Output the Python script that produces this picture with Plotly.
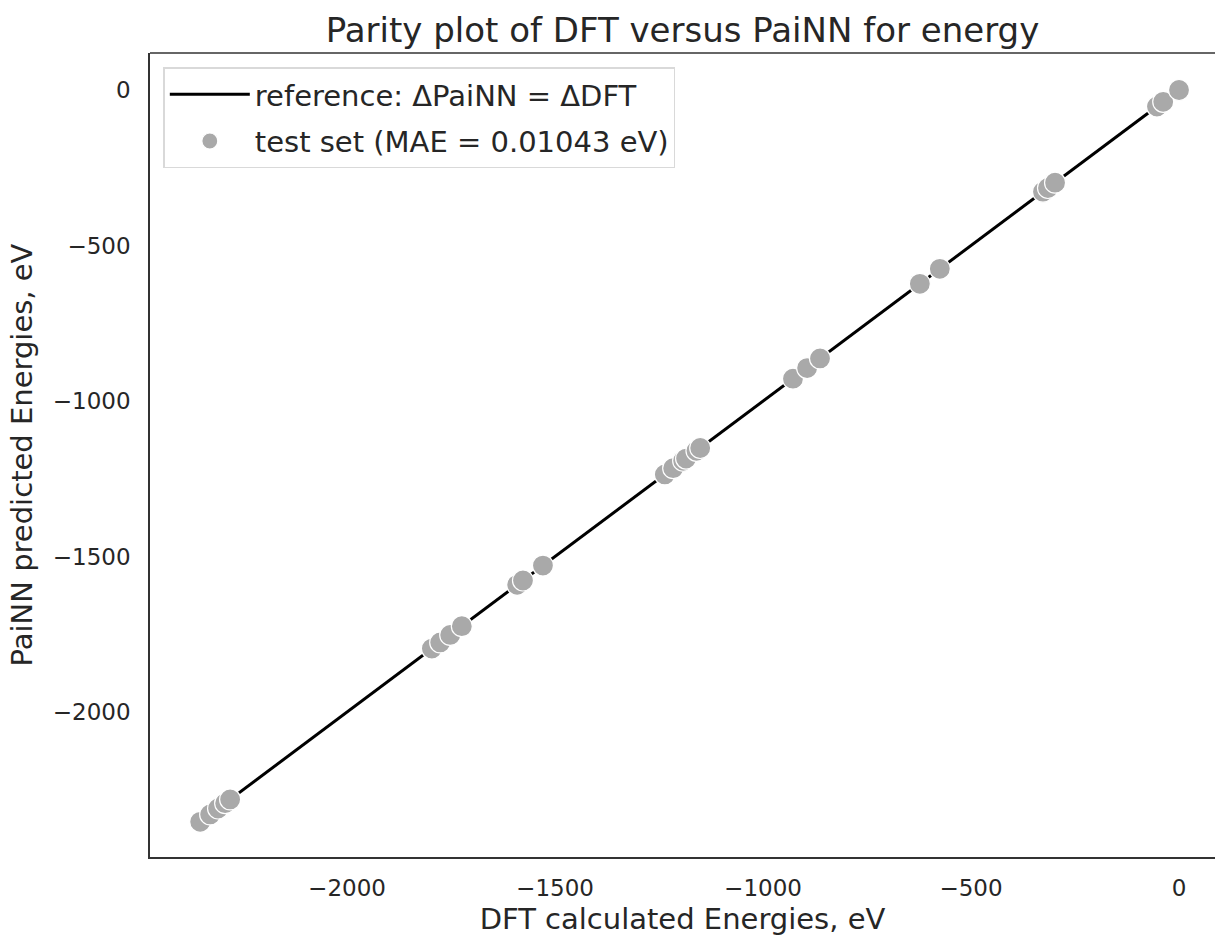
import plotly.graph_objects as go

# DFT energies (eV) and PaiNN predictions (eV)
dft = [-2353, -2329, -2310, -2293, -2281,
       -1796, -1776, -1752, -1724,
       -1591, -1577, -1529,
       -1236, -1216, -1192, -1185, -1160, -1151,
       -928, -894, -863,
       -623, -575,
       -327, -315, -298,
       -53, -38, 0]
painn = [-2353, -2329, -2310, -2293, -2281,
         -1796, -1776, -1752, -1724,
         -1591, -1577, -1529,
         -1236, -1216, -1192, -1185, -1160, -1151,
         -928, -894, -863,
         -623, -575,
         -327, -315, -298,
         -53, -38, 0]
ref_line = [min(dft), max(dft)]

x_ticks = [-2000, -1500, -1000, -500, 0]
y_ticks = [0, -500, -1000, -1500, -2000]

FONT = "DejaVu Sans"
TXT = "#262626"

fig = go.Figure()
fig.add_trace(go.Scatter(
    x=ref_line, y=ref_line, mode="lines", legendgroup="ref",
    line=dict(color="black", width=3),
    name="reference: \u0394PaiNN = \u0394DFT"))
fig.add_trace(go.Scatter(
    x=dft, y=painn, mode="markers", legendgroup="test",
    marker=dict(color="#a9a9a9", size=21, line=dict(color="white", width=1.2)),
    name="test set (MAE = 0.01043 eV)"))

fig.update_layout(
    width=1215, height=936,
    margin=dict(l=150, r=0, t=53, b=79),
    paper_bgcolor="white", plot_bgcolor="white",
    font=dict(family=FONT, color=TXT, size=23),
    title=dict(text="Parity plot of DFT versus PaiNN for energy",
               x=0.5, xanchor="center", xref="paper",
               y=1 - 30 / 936, yanchor="middle",
               font=dict(size=34, color=TXT, family=FONT)),
    showlegend=True,
    legend=dict(x=0.0125, y=0.982, xanchor="left", yanchor="top",
                bgcolor="white", bordercolor="#d9d9d9", borderwidth=1.5,
                font=dict(size=29, color=TXT, family=FONT),
                itemwidth=80, tracegroupgap=6),
    xaxis=dict(range=[-2473.6, 86.5], tickvals=x_ticks, automargin=False,
               showgrid=False, zeroline=False,
               showline=True, linecolor="#333333", linewidth=1.5, mirror=False,
               ticks="", ticklabelstandoff=10,
               tickfont=dict(size=23, color=TXT),
               title=dict(text="DFT calculated Energies, eV", standoff=12,
                          font=dict(size=29, color=TXT))),
    yaxis=dict(range=[-2466, 119], tickvals=y_ticks, automargin=False,
               showgrid=False, zeroline=False,
               showline=True, linecolor="#333333", linewidth=1.5, mirror=False,
               ticks="", ticklabelstandoff=13,
               tickfont=dict(size=23, color=TXT),
               title=dict(text="PaiNN predicted Energies, eV", standoff=12,
                          font=dict(size=29, color=TXT))),
    shapes=[dict(type="line", xref="paper", yref="paper", x0=0, x1=1, y0=1, y1=1,
                 line=dict(color="#333333", width=1.5))],
)

fig.write_html("out.html")
